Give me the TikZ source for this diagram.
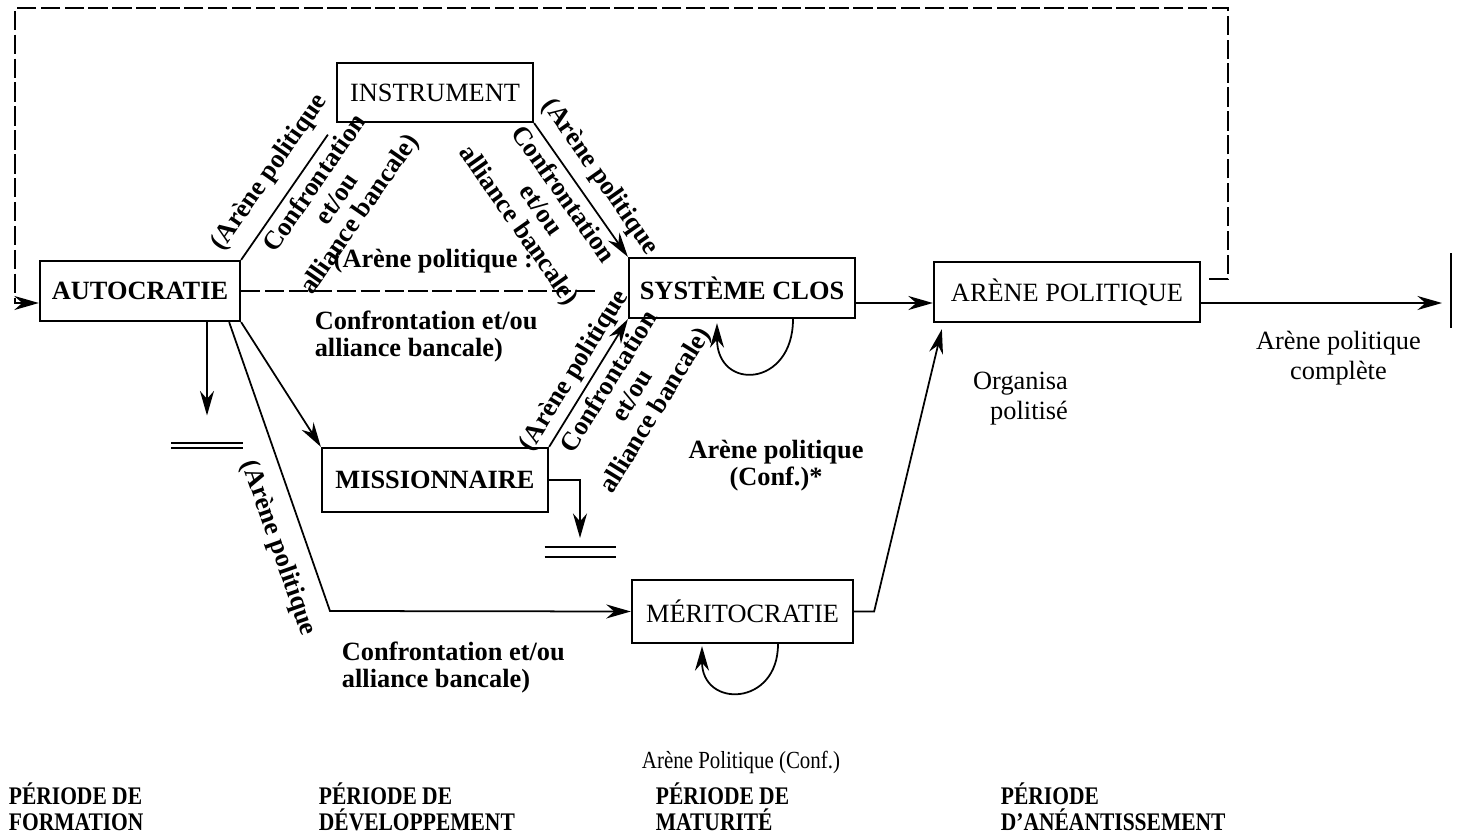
\documentclass[tikz,border=0pt]{standalone}
\usepackage{fontspec}
\setmainfont{Liberation Serif}
\newfontfamily\condfont[FakeStretch=0.85]{Liberation Serif}
\newfontfamily\periodfont[FakeStretch=0.85]{Liberation Serif}
\usetikzlibrary{arrows.meta}
\tikzset{
    box/.style={draw,line width=0.65pt,inner sep=0pt,minimum height=0.6cm,font=\fontsize{7.5}{8}\selectfont},
    boldbox/.style={box,font=\fontsize{7.5}{8}\selectfont\bfseries},
    lab/.style={align=center,inner sep=1.5pt,font=\fontsize{7.5}{7.7}\selectfont\bfseries},
    plainlab/.style={align=center,inner sep=1.5pt,font=\fontsize{7.5}{8.5}\selectfont},
    feedback/.style={dash pattern=on 5.5pt off 1.3pt},
    stopbar/.style={-,line width=0.55pt},
    period/.style={anchor=north west,align=left,inner sep=0pt,font=\periodfont\bfseries\fontsize{7.2}{7.4}\selectfont}
}

\begin{document}
\begin{tikzpicture}[->,>={Stealth[length=7pt,width=4pt]},line width=0.5pt]
\useasboundingbox (0,0) rectangle (14.6,-8.37);

\node[boldbox,minimum width=2cm] (auto) at (1.40,-2.91) {AUTOCRATIE};
\node[box,minimum width=1.96cm,minimum height=0.59cm] (instr) at (4.35,-0.925) {INSTRUMENT};
\node[boldbox,minimum width=2.26cm] (sys) at (7.42,-2.88) {SYSTÈME CLOS};
\node[box,minimum width=2.66cm] (arene) at (10.67,-2.92) {ARÈNE POLITIQUE};
\node[boldbox,minimum width=2.26cm,minimum height=0.64cm] (miss) at (4.35,-4.80) {MISSIONNAIRE};
\node[box,minimum width=2.21cm,minimum height=0.63cm] (merit) at (7.425,-6.115) {MÉRITOCRATIE};

\coordinate (stopA) at (2.07,-4.455);
\coordinate (stopB) at (5.80,-5.52);
\coordinate (bendM) at (3.30,-6.11);
\coordinate (dashEnd) at (5.97,-2.91);
\coordinate (fbR) at (12.28,-0.08);
\coordinate (fbL) at (0.15,-0.08);
\coordinate (endbar) at (14.51,-3.03);

\path
(auto.north east)  edge[-,shorten >=0.14cm]
                   node[lab,sloped,above=0.08cm,pos=0.53] {(Arène politique}
                   node[lab,sloped,below,pos=0.63] {Confrontation\\et/ou\\alliance bancale)} (instr.south west)
(instr.south east) edge
                   node[lab,sloped,above=0.05cm,pos=0.5] {(Arène politique}
                   node[lab,sloped,below,pos=0.46] {Confrontation\\et/ou\\alliance bancale)} (sys.north west)
(miss.north east)  edge
                   node[lab,sloped,above,pos=0.52] {(Arène politique}
                   node[lab,sloped,below,pos=0.58] {Confrontation\\et/ou\\alliance bancale)} (sys.south west);

\draw[-,feedback] (auto.east) --
    node[lab,above=0.12cm,pos=0.54] {(Arène politique :}
    node[lab,below=0.14cm,pos=0.52,align=left] {Confrontation et/ou\\alliance bancale)} (dashEnd);

\draw (auto.south east) -- (miss.north west);
\draw ([xshift=-0.12cm]auto.south east) --
    node[lab,sloped,below=0.1cm,pos=0.75] {(Arène politique} (bendM) --
    node[lab,below=0.25cm,pos=0.41,align=left] {Confrontation et/ou\\alliance bancale)} (merit.west);

\draw (stopA |- auto.south) -- ([yshift=0.3cm]stopA);
\draw[stopbar] ([xshift=-0.36cm,yshift=0.028cm]stopA) -- ([xshift=0.36cm,yshift=0.028cm]stopA);
\draw[stopbar] ([xshift=-0.36cm,yshift=-0.028cm]stopA) -- ([xshift=0.36cm,yshift=-0.028cm]stopA);

\draw (miss.east) -| ([yshift=0.14cm]stopB);
\draw[stopbar] ([xshift=-0.355cm,yshift=0.05cm]stopB) -- ([xshift=0.355cm,yshift=0.05cm]stopB);
\draw[stopbar] ([xshift=-0.355cm,yshift=-0.05cm]stopB) -- ([xshift=0.355cm,yshift=-0.05cm]stopB);

\draw ([yshift=-0.15cm]sys.east) -- ([yshift=-0.11cm]arene.west);
\draw ([yshift=-0.11cm]arene.east) --
    node[plainlab,below=0.22cm,pos=0.57] {Arène politique\\complète} ([xshift=-0.09cm]endbar);
\draw[-,line width=0.65pt] ([yshift=0.5cm]endbar) -- ([yshift=-0.25cm]endbar);

\draw[feedback] ([xshift=0.08cm,yshift=0.13cm]arene.east) -| (fbR) -- (fbL) |- ([yshift=-0.12cm]auto.west);

\draw (merit.east) -- ++(0.2,0) -- ([xshift=0.09cm,yshift=-0.06cm]arene.south west);

\draw ([xshift=0.51cm]sys.south) to[out=-90,in=-90,looseness=2.3] ([xshift=-0.25cm,yshift=-0.04cm]sys.south);
\draw ([xshift=0.355cm]merit.south) to[out=-90,in=-90,looseness=2.1] ([xshift=-0.405cm,yshift=-0.02cm]merit.south);

\node[lab] (confstar) at (7.76,-4.66) {Arène politique\\(Conf.)*};
\node[plainlab,anchor=north east,align=right] (orga) at (10.74,-3.66) {Organisa\\politisé};
\node[plainlab,font=\condfont\fontsize{7}{8}\selectfont] (confloop) at (7.41,-7.62) {Arène Politique (Conf.)};

\node[period] (formation) at (0.08,-7.82) {PÉRIODE DE\\FORMATION};
\node[period] (developpement) at (3.18,-7.82) {PÉRIODE DE\\DÉVELOPPEMENT};
\node[period] (maturite) at (6.55,-7.82) {PÉRIODE DE\\MATURITÉ};
\node[period] (aneantissement) at (10.00,-7.82) {PÉRIODE\\D’ANÉANTISSEMENT};

\end{tikzpicture}
\end{document}
